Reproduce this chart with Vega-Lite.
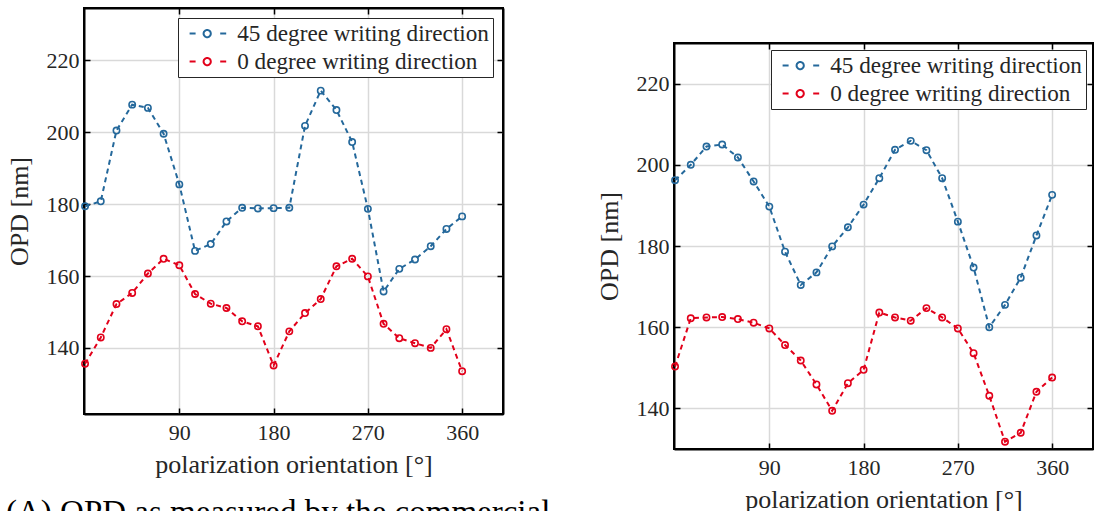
{
  "$schema": "https://vega.github.io/schema/vega-lite/v6.json",
  "padding": {"left": 5, "top": 6, "right": 0, "bottom": 0},
  "spacing": 171,
  "columns": 2,
  "bounds": "flush",
  "resolve": {"scale": {"color": "independent"}, "legend": {"color": "independent"}},
  "datasets": {
    "left": [
      {"angle": 0, "series": "45 degree writing direction", "opd": 179.4},
      {"angle": 15, "series": "45 degree writing direction", "opd": 180.8},
      {"angle": 30, "series": "45 degree writing direction", "opd": 200.5},
      {"angle": 45, "series": "45 degree writing direction", "opd": 207.7},
      {"angle": 60, "series": "45 degree writing direction", "opd": 206.8},
      {"angle": 75, "series": "45 degree writing direction", "opd": 199.6},
      {"angle": 90, "series": "45 degree writing direction", "opd": 185.5},
      {"angle": 105, "series": "45 degree writing direction", "opd": 167.0},
      {"angle": 120, "series": "45 degree writing direction", "opd": 168.9},
      {"angle": 135, "series": "45 degree writing direction", "opd": 175.2},
      {"angle": 150, "series": "45 degree writing direction", "opd": 179.0},
      {"angle": 165, "series": "45 degree writing direction", "opd": 178.8},
      {"angle": 180, "series": "45 degree writing direction", "opd": 178.9},
      {"angle": 195, "series": "45 degree writing direction", "opd": 179.0},
      {"angle": 210, "series": "45 degree writing direction", "opd": 201.8},
      {"angle": 225, "series": "45 degree writing direction", "opd": 211.6},
      {"angle": 240, "series": "45 degree writing direction", "opd": 206.2},
      {"angle": 255, "series": "45 degree writing direction", "opd": 197.3},
      {"angle": 270, "series": "45 degree writing direction", "opd": 178.7},
      {"angle": 285, "series": "45 degree writing direction", "opd": 155.7},
      {"angle": 300, "series": "45 degree writing direction", "opd": 162.0},
      {"angle": 315, "series": "45 degree writing direction", "opd": 164.6},
      {"angle": 330, "series": "45 degree writing direction", "opd": 168.3},
      {"angle": 345, "series": "45 degree writing direction", "opd": 173.1},
      {"angle": 360, "series": "45 degree writing direction", "opd": 176.6},
      {"angle": 0, "series": "0 degree writing direction", "opd": 135.6},
      {"angle": 15, "series": "0 degree writing direction", "opd": 142.9},
      {"angle": 30, "series": "0 degree writing direction", "opd": 152.2},
      {"angle": 45, "series": "0 degree writing direction", "opd": 155.3},
      {"angle": 60, "series": "0 degree writing direction", "opd": 160.7},
      {"angle": 75, "series": "0 degree writing direction", "opd": 164.8},
      {"angle": 90, "series": "0 degree writing direction", "opd": 163.0},
      {"angle": 105, "series": "0 degree writing direction", "opd": 155.0},
      {"angle": 120, "series": "0 degree writing direction", "opd": 152.3},
      {"angle": 135, "series": "0 degree writing direction", "opd": 151.1},
      {"angle": 150, "series": "0 degree writing direction", "opd": 147.4},
      {"angle": 165, "series": "0 degree writing direction", "opd": 146.0},
      {"angle": 180, "series": "0 degree writing direction", "opd": 135.1},
      {"angle": 195, "series": "0 degree writing direction", "opd": 144.6},
      {"angle": 210, "series": "0 degree writing direction", "opd": 149.7},
      {"angle": 225, "series": "0 degree writing direction", "opd": 153.6},
      {"angle": 240, "series": "0 degree writing direction", "opd": 162.7},
      {"angle": 255, "series": "0 degree writing direction", "opd": 164.8},
      {"angle": 270, "series": "0 degree writing direction", "opd": 159.9},
      {"angle": 285, "series": "0 degree writing direction", "opd": 146.7},
      {"angle": 300, "series": "0 degree writing direction", "opd": 142.7},
      {"angle": 315, "series": "0 degree writing direction", "opd": 141.3},
      {"angle": 330, "series": "0 degree writing direction", "opd": 140.0},
      {"angle": 345, "series": "0 degree writing direction", "opd": 145.2},
      {"angle": 360, "series": "0 degree writing direction", "opd": 133.5}
    ],
    "right": [
      {"angle": 0, "series": "45 degree writing direction", "opd": 196.2},
      {"angle": 15, "series": "45 degree writing direction", "opd": 200.0},
      {"angle": 30, "series": "45 degree writing direction", "opd": 204.5},
      {"angle": 45, "series": "45 degree writing direction", "opd": 205.0},
      {"angle": 60, "series": "45 degree writing direction", "opd": 201.8},
      {"angle": 75, "series": "45 degree writing direction", "opd": 195.9},
      {"angle": 90, "series": "45 degree writing direction", "opd": 189.7},
      {"angle": 105, "series": "45 degree writing direction", "opd": 178.6},
      {"angle": 120, "series": "45 degree writing direction", "opd": 170.4},
      {"angle": 135, "series": "45 degree writing direction", "opd": 173.5},
      {"angle": 150, "series": "45 degree writing direction", "opd": 179.9},
      {"angle": 165, "series": "45 degree writing direction", "opd": 184.6},
      {"angle": 180, "series": "45 degree writing direction", "opd": 190.2},
      {"angle": 195, "series": "45 degree writing direction", "opd": 196.7},
      {"angle": 210, "series": "45 degree writing direction", "opd": 203.7},
      {"angle": 225, "series": "45 degree writing direction", "opd": 205.9},
      {"angle": 240, "series": "45 degree writing direction", "opd": 203.6},
      {"angle": 255, "series": "45 degree writing direction", "opd": 196.7},
      {"angle": 270, "series": "45 degree writing direction", "opd": 186.0},
      {"angle": 285, "series": "45 degree writing direction", "opd": 174.7},
      {"angle": 300, "series": "45 degree writing direction", "opd": 160.0},
      {"angle": 315, "series": "45 degree writing direction", "opd": 165.5},
      {"angle": 330, "series": "45 degree writing direction", "opd": 172.2},
      {"angle": 345, "series": "45 degree writing direction", "opd": 182.6},
      {"angle": 360, "series": "45 degree writing direction", "opd": 192.6},
      {"angle": 0, "series": "0 degree writing direction", "opd": 150.3},
      {"angle": 15, "series": "0 degree writing direction", "opd": 162.2},
      {"angle": 30, "series": "0 degree writing direction", "opd": 162.4},
      {"angle": 45, "series": "0 degree writing direction", "opd": 162.5},
      {"angle": 60, "series": "0 degree writing direction", "opd": 162.0},
      {"angle": 75, "series": "0 degree writing direction", "opd": 161.1},
      {"angle": 90, "series": "0 degree writing direction", "opd": 159.7},
      {"angle": 105, "series": "0 degree writing direction", "opd": 155.6},
      {"angle": 120, "series": "0 degree writing direction", "opd": 151.8},
      {"angle": 135, "series": "0 degree writing direction", "opd": 145.9},
      {"angle": 150, "series": "0 degree writing direction", "opd": 139.4},
      {"angle": 165, "series": "0 degree writing direction", "opd": 146.2},
      {"angle": 180, "series": "0 degree writing direction", "opd": 149.5},
      {"angle": 195, "series": "0 degree writing direction", "opd": 163.6},
      {"angle": 210, "series": "0 degree writing direction", "opd": 162.4},
      {"angle": 225, "series": "0 degree writing direction", "opd": 161.6},
      {"angle": 240, "series": "0 degree writing direction", "opd": 164.7},
      {"angle": 255, "series": "0 degree writing direction", "opd": 162.4},
      {"angle": 270, "series": "0 degree writing direction", "opd": 159.7},
      {"angle": 285, "series": "0 degree writing direction", "opd": 153.6},
      {"angle": 300, "series": "0 degree writing direction", "opd": 143.1},
      {"angle": 315, "series": "0 degree writing direction", "opd": 131.8},
      {"angle": 330, "series": "0 degree writing direction", "opd": 134.0},
      {"angle": 345, "series": "0 degree writing direction", "opd": 144.1},
      {"angle": 360, "series": "0 degree writing direction", "opd": 147.6}
    ]
  },
  "concat": [
    {
      "width": 419,
      "height": 406,
      "data": {"name": "left"},
      "title": {
        "text": "(A) OPD as measured by the commercial",
        "orient": "bottom",
        "anchor": "start",
        "frame": "bounds",
        "font": "Liberation Serif",
        "fontSize": 33,
        "fontWeight": "normal",
        "color": "#000000",
        "offset": 20,
        "dx": 0
      },
      "encoding": {
        "color": {"field": "series", "type": "nominal", "scale": {"domain": ["45 degree writing direction", "0 degree writing direction"], "range": ["#24689b", "#e2001a"]},
                  "legend": {"title": null, "orient": "top-right", "offset": 10, "symbolType": "M-1,0L0.5,0M6.65,0L8.15,0M4.3,0A0.9,0.9,0,1,1,2.5,0A0.9,0.9,0,1,1,4.3,0", "symbolSize": 64, "symbolStrokeWidth": 2, "symbolFillColor": "transparent", "symbolDash": [1, 0], "labelOffset": 32, "padding": 4, "rowPadding": 4, "labelFont": "Liberation Serif", "labelFontSize": 23.2, "labelColor": "#262626", "labelLimit": 500, "strokeColor": "#262626", "fillColor": "#ffffff"}}
      },
      "layer": [
        {
          "mark": {"type": "line", "strokeDash": [5, 4], "strokeWidth": 2},
          "encoding": {
            "x": {"field": "angle", "type": "quantitative", "scale": {"domain": [-1, 399], "nice": false, "zero": false},
                  "axis": {"orient": "bottom", "values": [90, 180, 270, 360], "title": "polarization orientation [°]", "grid": true, "labelPadding": 14, "titlePadding": 8}},
            "y": {"field": "opd", "type": "quantitative", "scale": {"domain": [121.6, 234.6], "nice": false, "zero": false},
                  "axis": {"orient": "left", "values": [140, 160, 180, 200, 220], "title": "OPD [nm]", "grid": true, "labelPadding": 11, "titlePadding": 14}}
          }
        },
        {
          "mark": {"type": "point", "shape": "circle", "filled": false, "size": 40, "strokeWidth": 1.6, "opacity": 1},
          "encoding": {
            "x": {"field": "angle", "type": "quantitative", "scale": {"domain": [-1, 399], "nice": false, "zero": false},
                  "axis": {"orient": "top", "values": [90, 180, 270, 360], "title": null, "grid": false, "labels": false}},
            "y": {"field": "opd", "type": "quantitative", "scale": {"domain": [121.6, 234.6], "nice": false, "zero": false},
                  "axis": {"orient": "right", "values": [140, 160, 180, 200, 220], "title": null, "grid": false, "labels": false}}
          }
        }
      ],
      "resolve": {"axis": {"x": "independent", "y": "independent"}}
    },
    {
      "spacing": 32,
      "resolve": {"scale": {"color": "independent"}, "legend": {"color": "independent"}},
      "vconcat": [
        {
          "width": 1,
          "height": 1,
          "data": {"values": []},
          "mark": "point",
          "view": {"stroke": null, "fill": "transparent"}
        },
        {
          "width": 419,
          "height": 406,
          "data": {"name": "right"},
          "encoding": {
            "color": {"field": "series", "type": "nominal", "scale": {"domain": ["45 degree writing direction", "0 degree writing direction"], "range": ["#24689b", "#e2001a"]},
                      "legend": {"title": null, "orient": "top-right", "offset": 7, "symbolType": "M-1,0L0.5,0M6.65,0L8.15,0M4.3,0A0.9,0.9,0,1,1,2.5,0A0.9,0.9,0,1,1,4.3,0", "symbolSize": 64, "symbolStrokeWidth": 2, "symbolFillColor": "transparent", "symbolDash": [1, 0], "labelOffset": 32, "padding": 4, "rowPadding": 4, "labelFont": "Liberation Serif", "labelFontSize": 23.2, "labelColor": "#262626", "labelLimit": 500, "strokeColor": "#262626", "fillColor": "#ffffff"}}
          },
          "layer": [
            {
              "mark": {"type": "line", "strokeDash": [5, 4], "strokeWidth": 2},
              "encoding": {
                "x": {"field": "angle", "type": "quantitative", "scale": {"domain": [-1, 399], "nice": false, "zero": false},
                      "axis": {"orient": "bottom", "values": [90, 180, 270, 360], "title": "polarization orientation [°]", "grid": true, "labelPadding": 14, "titlePadding": 8}},
                "y": {"field": "opd", "type": "quantitative", "scale": {"domain": [130, 230], "nice": false, "zero": false},
                      "axis": {"orient": "left", "values": [140, 160, 180, 200, 220], "title": "OPD [nm]", "grid": true, "labelPadding": 11, "titlePadding": 14}}
              }
            },
            {
              "mark": {"type": "point", "shape": "circle", "filled": false, "size": 40, "strokeWidth": 1.6, "opacity": 1},
              "encoding": {
                "x": {"field": "angle", "type": "quantitative", "scale": {"domain": [-1, 399], "nice": false, "zero": false},
                      "axis": {"orient": "top", "values": [90, 180, 270, 360], "title": null, "grid": false, "labels": false}},
                "y": {"field": "opd", "type": "quantitative", "scale": {"domain": [130, 230], "nice": false, "zero": false},
                      "axis": {"orient": "right", "values": [140, 160, 180, 200, 220], "title": null, "grid": false, "labels": false}}
              }
            }
          ],
          "resolve": {"axis": {"x": "independent", "y": "independent"}}
        }
      ]
    }
  ],
  "config": {
    "font": "Liberation Serif",
    "view": {"stroke": "#000000", "strokeWidth": 2},
    "axis": {
      "labelFont": "Liberation Serif",
      "labelFontSize": 22,
      "labelColor": "#262626",
      "titleFont": "Liberation Serif",
      "titleFontSize": 26,
      "titleFontWeight": "normal",
      "titleColor": "#262626",
      "domainColor": "#000000",
      "domainWidth": 2,
      "tickColor": "#000000",
      "tickWidth": 1.5,
      "tickSize": -6,
      "gridColor": "#d9d9d9",
      "gridWidth": 1.5
    }
  }
}
